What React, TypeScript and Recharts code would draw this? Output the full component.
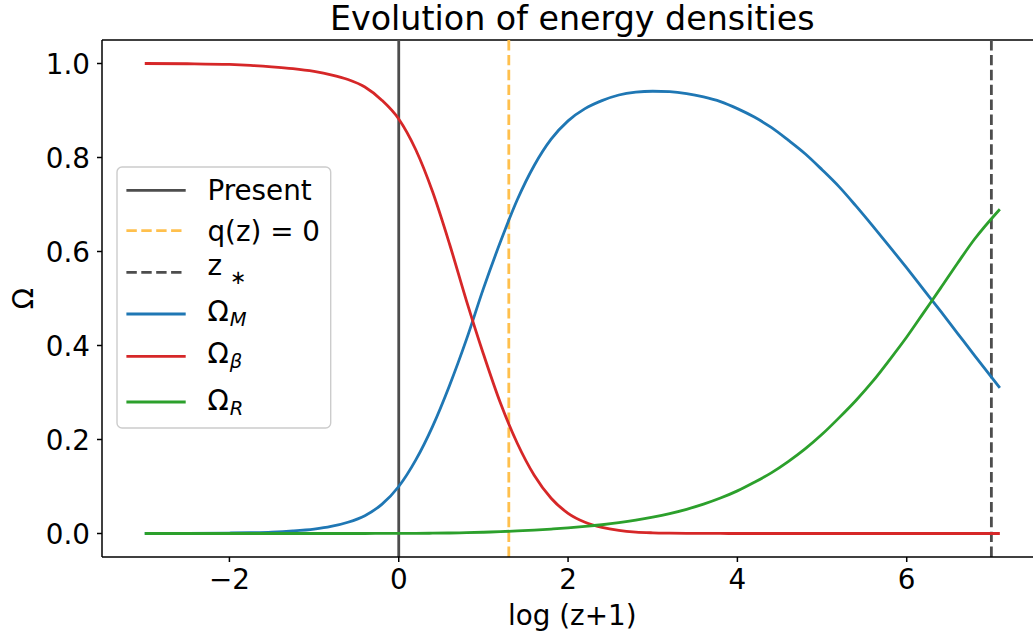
import React from 'react';
import { LineChart, Line, XAxis, YAxis, ReferenceLine, Legend } from 'recharts';

const xValues = [-3, -2.5, -2, -1.75, -1.5, -1.25, -1.0, -0.8, -0.6, -0.4, -0.2, 0, 0.2, 0.4, 0.6, 0.8, 1.0, 1.2, 1.4, 1.6, 1.8, 2.0, 2.2, 2.4, 2.6, 2.8, 3.0, 3.2, 3.4, 3.6, 3.8, 4.0, 4.2, 4.4, 4.6, 4.8, 5.0, 5.2, 5.4, 5.6, 5.8, 6.0, 6.2, 6.4, 6.6, 6.8, 7.1];
const omegaM = [0.0001, 0.0003, 0.001, 0.0017, 0.003, 0.0055, 0.0095, 0.015, 0.024, 0.038, 0.062, 0.100, 0.156, 0.228, 0.315, 0.413, 0.521, 0.620, 0.710, 0.783, 0.839, 0.878, 0.904, 0.921, 0.933, 0.939, 0.941, 0.940, 0.936, 0.929, 0.919, 0.904, 0.886, 0.864, 0.837, 0.808, 0.774, 0.738, 0.697, 0.654, 0.610, 0.565, 0.519, 0.473, 0.426, 0.379, 0.310];
const omegaB = [1.0, 0.9995, 0.998, 0.996, 0.993, 0.989, 0.983, 0.976, 0.966, 0.950, 0.922, 0.882, 0.817, 0.727, 0.616, 0.495, 0.382, 0.278, 0.192, 0.124, 0.075, 0.043, 0.024, 0.013, 0.0065, 0.003, 0.0015, 0.0008, 0.0004, 0.0002, 0.0001, 0, 0, 0, 0, 0, 0, 0, 0, 0, 0, 0, 0, 0, 0, 0, 0];
const omegaR = [0, 0, 0, 0, 0, 0, 0.000005, 0.00001, 0.00002, 0.00004, 0.0001, 0.0002, 0.00035, 0.0006, 0.0011, 0.0017, 0.0027, 0.0039, 0.0054, 0.0073, 0.0095, 0.012, 0.015, 0.0186, 0.023, 0.0283, 0.0347, 0.0423, 0.0515, 0.0624, 0.0754, 0.0907, 0.109, 0.129, 0.153, 0.180, 0.211, 0.246, 0.283, 0.324, 0.370, 0.418, 0.470, 0.522, 0.575, 0.626, 0.690];

const xTicks = [-2, 0, 2, 4, 6];
const yTicks = [0, 0.2, 0.4, 0.6, 0.8, 1.0];
const presentX = 0;
const qZeroX = 1.3;
const zStarX = 7.0;

const title = 'Evolution of energy densities';
const xLabel = 'log (z+1)';
const yLabel = 'Ω';

const data = xValues.map((x, i) => ({ x, m: omegaM[i], b: omegaB[i], r: omegaR[i] }));

const FONT = '"DejaVu Sans", sans-serif';
const FS = 27.8;
const LW = 2.8;
const DASH = '10.4 4.5';
const C_BLUE = '#1f77b4';
const C_RED = '#d62728';
const C_GREEN = '#2ca02c';
const C_GRAY = '#4d4d4d';
const C_ORANGE = '#ffc04d';

const fmtX = (v: number) => (v < 0 ? '\u2212' + Math.abs(v) : String(v));

const XTick = (props: any) => {
  const { x, y, payload } = props;
  return (
    <text x={x} y={y + 27} textAnchor="middle" fontFamily={FONT} fontSize={FS} fill="#000">
      {fmtX(payload.value)}
    </text>
  );
};

const YTick = (props: any) => {
  const { x, y, payload } = props;
  return (
    <text x={x} y={y + 10} textAnchor="end" fontFamily={FONT} fontSize={FS} fill="#000">
      {Number(payload.value).toFixed(1)}
    </text>
  );
};

const LegendBox = () => {
  const hx1 = 10.4;
  const hx2 = 69.7;
  const tx = 91.4;
  const rows = [24.4, 64.7, 106.4, 148, 190.4, 236];
  const sub = 19.5;
  return (
    <svg width={218} height={266} style={{ display: 'block', overflow: 'visible' }}>
      <rect x={1} y={1} width={213.7} height={261} rx={5} ry={5} fill="#ffffff" fillOpacity={0.8} stroke="#cccccc" strokeWidth={1.4} />
      <line x1={hx1} x2={hx2} y1={rows[0]} y2={rows[0]} stroke={C_GRAY} strokeWidth={LW} />
      <line x1={hx1} x2={hx2} y1={rows[1]} y2={rows[1]} stroke={C_ORANGE} strokeWidth={LW} strokeDasharray={DASH} />
      <line x1={hx1} x2={hx2} y1={rows[2]} y2={rows[2]} stroke={C_GRAY} strokeWidth={LW} strokeDasharray={DASH} />
      <line x1={hx1} x2={hx2} y1={rows[3]} y2={rows[3]} stroke={C_BLUE} strokeWidth={LW} />
      <line x1={hx1} x2={hx2} y1={rows[4]} y2={rows[4]} stroke={C_RED} strokeWidth={LW} />
      <line x1={hx1} x2={hx2} y1={rows[5]} y2={rows[5]} stroke={C_GREEN} strokeWidth={LW} />
      <g fontFamily={FONT} fontSize={FS} fill="#000">
        <text x={tx} y={34.4}>Present</text>
        <text x={tx} y={75.4}>q(z) = 0</text>
        <text x={tx} y={108.7}>z<tspan dx={8} dy={9} fontSize={sub}>∗</tspan></text>
        <text x={tx} y={155.4}>Ω<tspan dx={1} dy={5} fontSize={sub} fontStyle="italic">M</tspan></text>
        <text x={tx} y={197}>Ω<tspan dx={1} dy={5} fontSize={sub} fontStyle="italic">β</tspan></text>
        <text x={tx} y={243.7}>Ω<tspan dx={1} dy={5} fontSize={sub} fontStyle="italic">R</tspan></text>
      </g>
    </svg>
  );
};

const TitleLabel = () => (
  <text x={572.3} y={30} textAnchor="middle" fontFamily={FONT} fontSize={33.3} fill="#000">
    {title}
  </text>
);

const XLabelContent = () => (
  <text x={572.3} y={625} textAnchor="middle" fontFamily={FONT} fontSize={FS} fill="#000">
    {xLabel}
  </text>
);

const YLabelContent = () => (
  <text x={0} y={0} transform="translate(23,298.5) rotate(-90)" textAnchor="middle" dominantBaseline="central" fontFamily={FONT} fontSize={FS} fill="#000">
    {yLabel}
  </text>
);

export default function App() {
  return (
    <div style={{ position: 'absolute', left: 0, top: 0, width: 1033, height: 637, overflow: 'hidden', background: '#fff' }}>
      <LineChart width={1060} height={637} data={data} margin={{ top: 40, right: 17.4, bottom: 0, left: 0 }}>
        <XAxis
          dataKey="x"
          type="number"
          domain={[-3.505, 7.605]}
          allowDataOverflow
          ticks={xTicks}
          tick={<XTick />}
          tickSize={5}
          tickMargin={0}
          height={80}
          stroke="#000"
          strokeWidth={1.5}
          tickLine={{ stroke: '#000', strokeWidth: 1.5 }}
          axisLine={{ stroke: '#000', strokeWidth: 1.5 }}
          label={{ content: <XLabelContent /> }}
        />
        <YAxis
          type="number"
          domain={[-0.05, 1.05]}
          allowDataOverflow
          ticks={yTicks}
          tick={<YTick />}
          tickSize={5}
          tickMargin={7}
          width={102}
          tickLine={{ stroke: '#000', strokeWidth: 1.5 }}
          axisLine={{ stroke: '#000', strokeWidth: 1.5 }}
          label={{ content: <YLabelContent /> }}
        />
        <ReferenceLine y={1.05} stroke="#000" strokeWidth={1.5} label={{ content: <TitleLabel /> }} />
        <ReferenceLine x={presentX} stroke={C_GRAY} strokeWidth={LW} />
        <ReferenceLine x={qZeroX} stroke={C_ORANGE} strokeWidth={LW} strokeDasharray={DASH} />
        <ReferenceLine x={zStarX} stroke={C_GRAY} strokeWidth={LW} strokeDasharray={DASH} />
        <Line dataKey="m" type="monotone" stroke={C_BLUE} strokeWidth={LW} dot={false} isAnimationActive={false} />
        <Line dataKey="b" type="monotone" stroke={C_RED} strokeWidth={LW} dot={false} isAnimationActive={false} />
        <Line dataKey="r" type="monotone" stroke={C_GREEN} strokeWidth={LW} dot={false} isAnimationActive={false} />
        <Legend
          content={<LegendBox />}
          layout="vertical"
          align="center"
          verticalAlign="middle"
          wrapperStyle={{ position: 'absolute', left: 116.3, top: 166.3, width: 218, height: 266 }}
        />
      </LineChart>
    </div>
  );
}
